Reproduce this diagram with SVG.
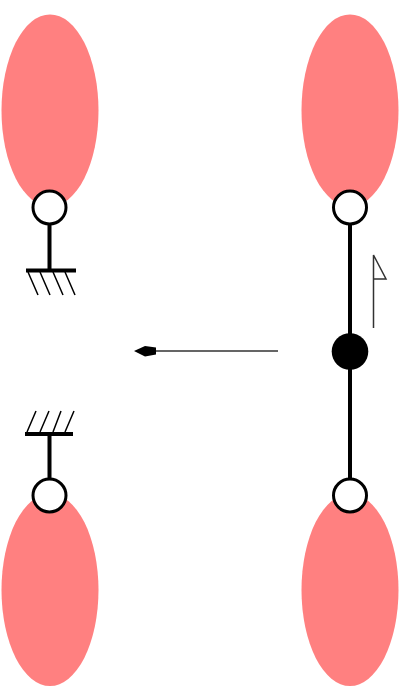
<svg xmlns="http://www.w3.org/2000/svg" width="408" height="686" viewBox="0 0 408 686">
<style>
.lobe{fill:#ff8080;stroke:none}
.rod{stroke:#000;stroke-width:4;fill:none}
.hatch{stroke:#000;stroke-width:1.5;fill:none}
.thin{stroke:#333;stroke-width:1.5;fill:none}
.pin{fill:#fff;stroke:#000;stroke-width:3}
</style>
<defs><filter id="soft" x="-5%" y="-5%" width="110%" height="110%"><feGaussianBlur stdDeviation="0.6"/></filter></defs>
<g filter="url(#soft)">
<g id="lobe-top-left"><ellipse class="lobe" cx="50" cy="110.500" rx="48.500" ry="96"/></g>
<g id="lobe-top-right"><ellipse class="lobe" cx="350" cy="110.500" rx="48.500" ry="96"/></g>
<g id="lobe-bottom-left"><ellipse class="lobe" cx="50" cy="590" rx="48.500" ry="96"/></g>
<g id="lobe-bottom-right"><ellipse class="lobe" cx="350" cy="590" rx="48.500" ry="96"/></g>
<g id="connectors">
<path class="rod" d="M49.500 224V270M49.500 434V480M350 224V480"/>
<path class="rod" d="M26 270.500H76M25 434H73"/>
<path class="hatch" d="M28 272L38 295M40 272L50 295M53 272L63 295M65 272L75 295"/>
<path class="hatch" d="M27 432L36 411M40 432L49 411M53 432L61 411M65 432L74 411"/>
<path class="thin" d="M278 351H150"/>
<path d="M134 351L145 346L156 347.500V354.500L145 356.500Z" fill="#000"/>
<path class="thin" d="M373.500 328V255L386 279H373.500"/>
</g>
<g id="pin-top-left"><circle class="pin" cx="49.500" cy="207.500" r="16.500"/></g>
<g id="pin-top-right"><circle class="pin" cx="350" cy="207.500" r="16.500"/></g>
<g id="pin-bottom-left"><circle class="pin" cx="49.500" cy="495.500" r="16.500"/></g>
<g id="pin-bottom-right"><circle class="pin" cx="350" cy="495.500" r="16.500"/></g>
<g id="pin-center"><circle cx="350" cy="351.500" r="18.300" fill="#000"/></g>
</g>
</svg>
